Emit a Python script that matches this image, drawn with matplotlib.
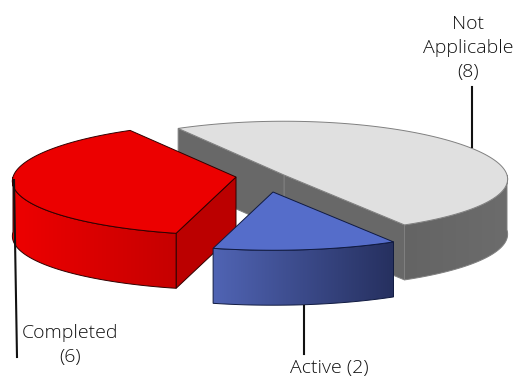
import numpy as np
import matplotlib
matplotlib.use("Agg")
import matplotlib.pyplot as plt
from matplotlib.colors import LinearSegmentedColormap
from matplotlib.patches import Polygon

# Data
categories = ["Not Applicable", "Completed", "Active"]
values = [8, 6, 2]
label_texts = ["Not\nApplicable\n(8)", "Completed\n(6)", "Active (2)"]

# Layout, all in image pixels
W, H = 517, 377
START_DEG = -59.5
DEPTH = 55
RX, RY = 223, 56
PERSP_X, PERSP_Y = 0.075, 0.04   # front of the pie is drawn a bit bigger
centers = [(284, 175), (236, 177), (273, 192)]
top_colors = ["#e0e0e0", "#ec0000", "#556dca"]
side_colors = [("#646464", "#6c6c6c"), ("#ee0000", "#c60000"), ("#5064b4", "#26305f")]
radial_colors = ["#686868", "#bb0000", "#3d4c90"]
edge_colors = ["#808080", "#300000", "#101a40"]
label_pos = [(468, 48), (70, 345), (329, 368)]
leaders = [((472, 87), (472, 147)), ((14, 180), (17, 357)), ((304, 306), (304, 354))]


def rim(center, a0, a1, n=120):
    a = np.radians(np.linspace(a0, a1, n))
    s = np.sin(a)
    x = center[0] + RX * np.cos(a) * (1 - PERSP_X * s)
    y = center[1] - RY * s * (1 - PERSP_Y * s)
    return np.column_stack([x, y])


def draw_gradient_wall(ax, pts, c0, c1, zorder):
    # horizontal gradient clipped to the wall outline
    cmap = LinearSegmentedColormap.from_list("wall", [c0, c1])
    x0, x1 = pts[:, 0].min(), pts[:, 0].max()
    y0, y1 = pts[:, 1].min(), pts[:, 1].max()
    im = ax.imshow(np.linspace(0, 1, 256)[None, :], cmap=cmap, extent=(x0, x1, y1, y0),
                   aspect="auto", zorder=zorder, interpolation="bilinear")
    clip = Polygon(pts, closed=True, transform=ax.transData, fill=False, edgecolor="none")
    ax.add_patch(clip)
    im.set_clip_path(clip)


def draw_slice(ax, i, a0, a1):
    c = centers[i]
    z = 2 + i * 2
    edge = edge_colors[i]
    down = np.array([0, DEPTH])

    # radial wall, near side of the slice
    for a in (a0, a1):
        pa = rim(c, a, a, 1)[0]
        # only walls that point towards the viewer
        if i == 0 or (i == 1 and a == a1):
            quad = np.array([c, pa, pa + down, np.array(c) + down])
            ax.add_patch(Polygon(quad, closed=True, facecolor=radial_colors[i], edgecolor=edge,
                                 lw=0.7, zorder=z))

    # outer wall, only the front part of the rim (sin < 0)
    lo, hi = max(a0, 180), min(a1, 360)
    if a0 < 0:
        lo, hi = a0, min(a1, 0)
    if hi > lo:
        front = rim(c, lo, hi)
        wall = np.vstack([front, front[::-1] + down])
        draw_gradient_wall(ax, wall, side_colors[i][0], side_colors[i][1], z)
        ax.add_patch(Polygon(wall, closed=True, fill=False, edgecolor=edge, lw=0.7, zorder=z + 0.5))

    # top face
    top = np.vstack([[c], rim(c, a0, a1)])
    ax.add_patch(Polygon(top, closed=True, facecolor=top_colors[i], edgecolor=edge,
                         lw=0.7, zorder=z + 1))


def main():
    plt.rcParams["font.family"] = ["Open Sans", "DejaVu Sans"]
    fig = plt.figure(figsize=(W / 100, H / 100), dpi=100)
    ax = fig.add_axes([0, 0, 1, 1])

    spans = np.array(values) / sum(values) * 360
    a0 = START_DEG
    for i, span in enumerate(spans):
        draw_slice(ax, i, a0, a0 + span)
        a0 += span

    for p, q in leaders:
        ax.plot([p[0], q[0]], [p[1], q[1]], color="#111111", lw=1.5, zorder=10)

    for text, pos in zip(label_texts, label_pos):
        ax.text(pos[0], pos[1], text, ha="center", va="center", fontsize=14,
                fontweight="light", color="#111111", linespacing=1.45, zorder=11)

    ax.set_xlim(0, W)
    ax.set_ylim(H, 0)
    ax.axis("off")
    fig.savefig("out.png", dpi=100)


if __name__ == "__main__":
    main()
